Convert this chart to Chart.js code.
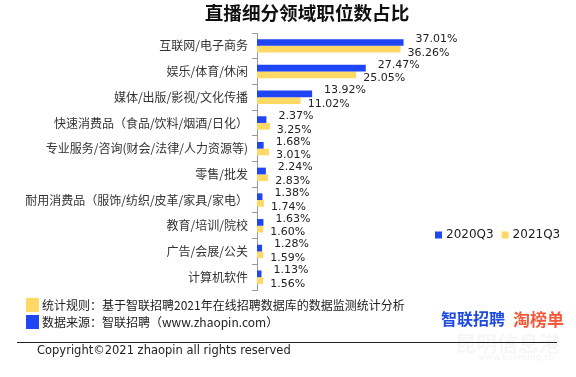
<!DOCTYPE html>
<html>
<head>
<meta charset="utf-8">
<style>
  body { margin: 0; background: #fff; font-family: "Noto Sans CJK SC", sans-serif; }
  #wrap { position: relative; width: 576px; height: 377px; overflow: hidden; }
  #title { position: absolute; left: 0; width: 614px; top: -2px; text-align: center; font-size: 18.6px; font-weight: bold; color: #111; }
  .note { position: absolute; left: 42px; font-size: 12px; color: #222; white-space: nowrap; }
  .sq { position: absolute; left: 26px; width: 13px; height: 14px; }
  #rule { position: absolute; left: 17px; width: 540px; top: 342px; border-top: 1px solid #222; }
  #copy { position: absolute; left: 37px; top: 343px; font-family: "DejaVu Sans", sans-serif; font-size: 11.5px; color: #222; }
  #logo1 { position: absolute; left: 441px; top: 306px; font-size: 16px; font-weight: bold; color: #1f4ae0; }
  #logo2 { position: absolute; left: 513px; top: 306px; font-size: 17px; font-weight: bold; color: #f25a3a; }
  #wm { position: absolute; left: 455px; top: 327px; font-size: 21px; color: rgba(0,0,0,0.035); font-weight: bold; }
  #wm2 { position: absolute; left: 478px; top: 352px; font-size: 9px; color: rgba(0,0,0,0.05); font-family: "DejaVu Sans", sans-serif; }
</style>
</head>
<body>
<div id="wrap">
  <canvas id="chart" width="576" height="377"></canvas>
  <div id="title">直播细分领域职位数占比</div>
  <div class="sq" style="top:298px;background:#ffd966"></div>
  <div class="note" style="top:296px">统计规则：基于智联招聘2021年在线招聘数据库的数据监测统计分析</div>
  <div class="sq" style="top:315px;background:#1f45f5"></div>
  <div class="note" style="top:313px">数据来源：智联招聘（www.zhaopin.com）</div>
  <div id="rule"></div>
  <div id="copy">Copyright©2021 zhaopin all rights reserved</div>
  <div id="logo1">智联招聘</div>
  <div id="logo2">淘榜单</div>
  <div id="wm">昆明信息港</div>
  <div id="wm2">www.kunming.cn</div>
</div>

<script src="https://cdn.jsdelivr.net/npm/chart.js"></script>
<script>
var categories = ['互联网/电子商务', '娱乐/体育/休闲', '媒体/出版/影视/文化传播', '快速消费品（食品/饮料/烟酒/日化）',
    '专业服务/咨询(财会/法律/人力资源等)', '零售/批发', '耐用消费品（服饰/纺织/皮革/家具/家电）',
    '教育/培训/院校', '广告/会展/公关', '计算机软件'];
var seriesNames = ['2020Q3', '2021Q3'];
var values2020 = [37.01, 27.47, 13.92, 2.37, 1.68, 2.24, 1.38, 1.63, 1.28, 1.13];
var values2021 = [36.26, 25.05, 11.02, 3.25, 3.01, 2.83, 1.74, 1.60, 1.59, 1.56];
var colors = ['#1f45f5', '#ffd966'];

document.addEventListener('DOMContentLoaded', function () {
    var ctx = document.getElementById('chart').getContext('2d');

    var valueLabels = {
        id: 'valueLabels',
        afterDatasetsDraw: function (chart) {
            var ctx = chart.ctx;
            ctx.save();
            ctx.font = '11px "DejaVu Sans", sans-serif';
            ctx.fillStyle = '#222';
            ctx.textAlign = 'left';
            ctx.textBaseline = 'middle';
            chart.data.datasets.forEach(function (dataset, i) {
                var meta = chart.getDatasetMeta(i);
                meta.data.forEach(function (bar, index) {
                    var v = dataset.data[index];
                    var dx = i === 0 ? 12 : 7;
                    var dy = i === 0 ? -3.5 : 3.5;
                    ctx.fillText(v.toFixed(2) + '%', bar.x + dx, bar.y + dy);
                });
            });
            ctx.restore();
        }
    };

    var legendBox = {
        id: 'legendBox',
        afterDraw: function (chart) {
            var ctx = chart.ctx;
            var x = 435, y = 235;
            ctx.save();
            ctx.font = '12px "DejaVu Sans", sans-serif';
            ctx.textBaseline = 'middle';
            chart.data.datasets.forEach(function (ds) {
                ctx.fillStyle = ds.backgroundColor;
                ctx.fillRect(x, y - 3.5, 7, 7);
                ctx.fillStyle = '#222';
                ctx.fillText(ds.label, x + 11, y);
                x += 11 + ctx.measureText(ds.label).width + 8;
            });
            ctx.restore();
        }
    };

    new Chart(ctx, {
        type: 'bar',
        data: {
            labels: categories,
            datasets: [
                { label: seriesNames[0], data: values2020, backgroundColor: colors[0] },
                { label: seriesNames[1], data: values2021, backgroundColor: colors[1] }
            ]
        },
        options: {
            indexAxis: 'y',
            responsive: false,
            animation: false,
            layout: { padding: { top: 33, bottom: 87, left: 0, right: 22 } },
            datasets: { bar: { categoryPercentage: 0.52, barPercentage: 1 } },
            scales: {
                x: { display: false, min: 0, max: 75 },
                y: {
                    afterFit: function (scale) { scale.width = 257; },
                    ticks: { color: '#333', padding: 4, font: { size: 12, family: '"Noto Sans CJK SC", sans-serif' } },
                    grid: { drawOnChartArea: false, tickLength: 5, color: '#999' },
                    border: { color: '#999' }
                }
            },
            plugins: {
                legend: { display: false },
                tooltip: { enabled: false }
            }
        },
        plugins: [valueLabels, legendBox]
    });
});
</script>
</body>
</html>
